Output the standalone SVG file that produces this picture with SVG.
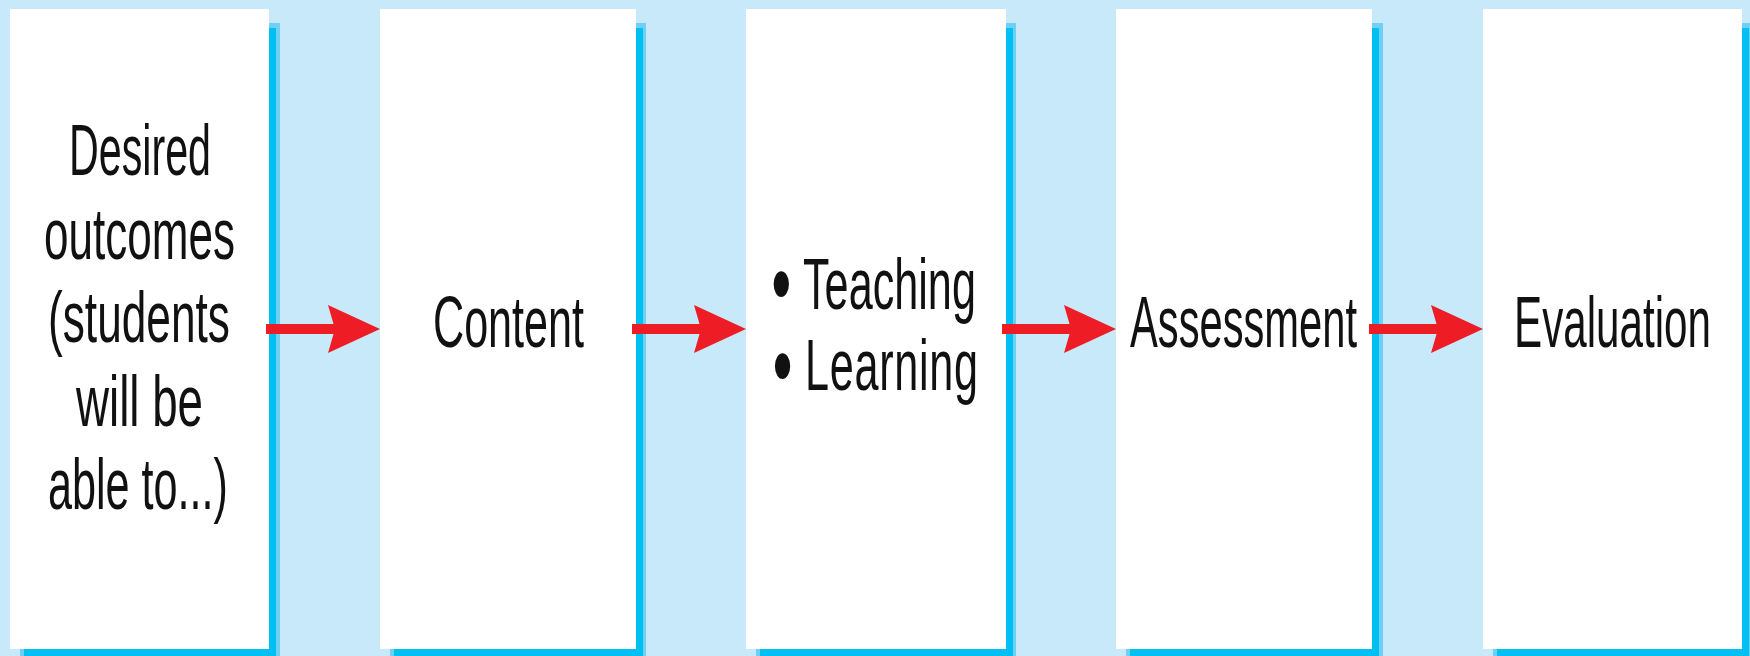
<svg xmlns="http://www.w3.org/2000/svg" width="1750" height="656" viewBox="0 0 1750 656">
<style>
.bg{fill:#C7E9F9}
.sh1{fill:#6FD0F5}
.sh2{fill:#00C0F3}
.box{fill:#FFFFFF}
.t{font-family:"Liberation Sans",Arial,sans-serif;font-size:72px;fill:#111111;text-anchor:start}
.bul{stroke:#111111;stroke-width:6;stroke-linejoin:round}
.conn line{stroke:#EE1C25;stroke-width:10;marker-end:url(#ah)}
</style>
<defs>
<marker id="ah" markerUnits="userSpaceOnUse" markerWidth="54" markerHeight="50" refX="12" refY="24" orient="auto" overflow="visible">
<path d="M0,0 L52,24 L0,48 L7,24 z" fill="#EE1C25"/>
</marker>
</defs>
<rect class="bg" x="0" y="0" width="1750" height="656"/>
<g id="node1">
<rect class="sh1" x="20" y="23" width="260" height="640"/>
<rect class="sh2" x="24" y="28" width="252" height="640"/>
<rect class="box" x="10" y="9" width="259" height="640"/>
<text class="t" transform="translate(69,175) scale(0.5725,1)">Desired</text>
<text class="t" transform="translate(44,259) scale(0.612,1)">outcomes</text>
<text class="t" transform="translate(48,342) scale(0.6146,1)">(students</text>
<text class="t" transform="translate(76,426) scale(0.635,1)">will be</text>
<text class="t" transform="translate(48,509) scale(0.5996,1)">able to...)</text>
</g>
<g id="node2">
<rect class="sh1" x="390" y="23" width="256" height="640"/>
<rect class="sh2" x="394" y="28" width="249" height="640"/>
<rect class="box" x="380" y="9" width="256" height="640"/>
<text class="t" transform="translate(433,347) scale(0.599,1)">Content</text>
</g>
<g id="node3">
<rect class="sh1" x="756" y="23" width="260" height="640"/>
<rect class="sh2" x="760" y="28" width="253" height="640"/>
<rect class="box" x="746" y="9" width="260" height="640"/>
<text class="t" transform="translate(772,0) scale(0.6,1)"><tspan class="bul" x="3" y="308">•</tspan><tspan x="51.7" y="309">Teaching</tspan><tspan class="bul" x="5" y="390">•</tspan><tspan x="55" y="390" letter-spacing="1.2">Learning</tspan></text>
</g>
<g id="node4">
<rect class="sh1" x="1126" y="23" width="257" height="640"/>
<rect class="sh2" x="1130" y="28" width="249" height="640"/>
<rect class="box" x="1116" y="9" width="256" height="640"/>
<text class="t" transform="translate(1130,347) scale(0.579,1)">Assessment</text>
</g>
<g id="node5">
<rect class="sh1" x="1493" y="23" width="260" height="640"/>
<rect class="sh2" x="1497" y="28" width="252" height="640"/>
<rect class="box" x="1483" y="9" width="259" height="640"/>
<text class="t" transform="translate(1514,347) scale(0.586,1)">Evaluation</text>
</g>
<g id="connectors" class="conn">
<line x1="266" y1="329" x2="340" y2="329"/>
<line x1="632" y1="329" x2="706" y2="329"/>
<line x1="1002" y1="329" x2="1076" y2="329"/>
<line x1="1369" y1="329" x2="1443" y2="329"/>
</g>
</svg>
